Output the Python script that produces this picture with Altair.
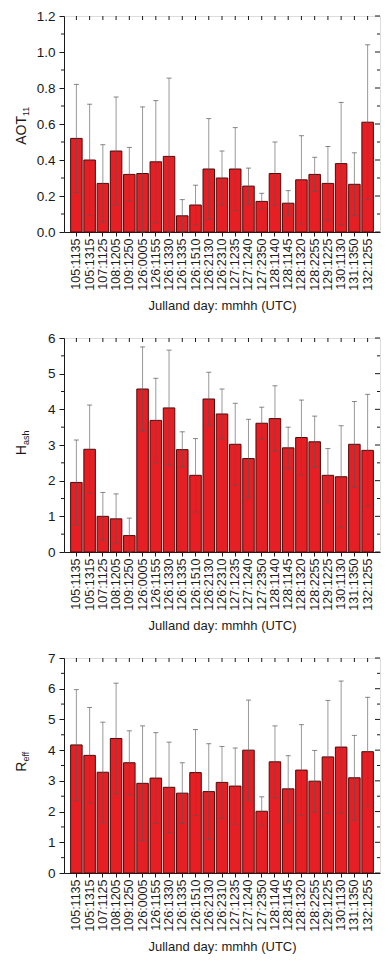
import altair as alt
import pandas as pd

categories = ["105:1135", "105:1315", "107:1125", "108:1205", "109:1250", "126:0005",
              "126:1155", "126:1330", "126:1335", "126:1510", "126:2130", "126:2310",
              "127:1235", "127:1240", "127:2350", "128:1140", "128:1145", "128:1320",
              "128:2255", "129:1225", "130:1130", "131:1350", "132:1255"]

aot = [0.52, 0.40, 0.27, 0.45, 0.32, 0.325, 0.39, 0.42, 0.09, 0.15, 0.35, 0.30,
       0.35, 0.255, 0.17, 0.325, 0.16, 0.29, 0.32, 0.27, 0.38, 0.265, 0.61]
aot_err = [0.30, 0.31, 0.215, 0.30, 0.15, 0.37, 0.34, 0.435, 0.09, 0.11, 0.28, 0.15,
           0.23, 0.10, 0.045, 0.175, 0.07, 0.245, 0.095, 0.205, 0.34, 0.175, 0.43]

hash_ = [1.95, 2.88, 1.00, 0.93, 0.46, 4.57, 3.69, 4.04, 2.87, 2.15, 4.29, 3.87,
         3.02, 2.62, 3.61, 3.74, 2.92, 3.21, 3.09, 2.15, 2.11, 3.02, 2.85]
hash_err = [1.19, 1.24, 0.67, 0.70, 0.49, 1.18, 1.18, 1.62, 0.50, 1.03, 0.75, 0.70,
            1.15, 1.10, 0.45, 0.92, 0.58, 1.05, 0.72, 0.75, 1.43, 1.20, 1.57]

reff = [4.17, 3.83, 3.28, 4.38, 3.59, 2.92, 3.09, 2.79, 2.60, 3.27, 2.65, 2.95,
        2.83, 4.00, 2.01, 3.62, 2.74, 3.35, 2.99, 3.78, 4.10, 3.10, 3.95]
reff_err = [1.80, 1.56, 1.63, 1.80, 1.04, 1.87, 1.48, 1.47, 0.99, 1.40, 1.56, 1.17,
            1.24, 1.63, 0.47, 1.17, 1.08, 1.48, 1.00, 1.84, 2.15, 1.38, 1.77]

aot_major = [0.0, 0.2, 0.4, 0.6, 0.8, 1.0, 1.2]
aot_minor = [0.1, 0.3, 0.5, 0.7, 0.9, 1.1]
hash_major = [0, 1, 2, 3, 4, 5, 6]
hash_minor = [0.5, 1.5, 2.5, 3.5, 4.5, 5.5]
reff_major = [0, 1, 2, 3, 4, 5, 6, 7]
reff_minor = [0.5, 1.5, 2.5, 3.5, 4.5, 5.5, 6.5]

FONT = "Liberation Sans"
W = 316
BAR = "#e51f24"
ERR = "#555555"
INK = "#1a1a1a"


def panel(values, errs, major, minor, fmt, h, main, sub, join):
    df = pd.DataFrame({"cat": categories, "v": values, "e": errs})
    df["lo"] = (df["v"] - df["e"]).clip(lower=0)
    df["hi"] = df["v"] + df["e"]
    ymax = major[-1]
    xs = alt.Scale(domain=categories, paddingInner=0.13, paddingOuter=0.5)
    ys = alt.Scale(domain=[0, ymax], nice=False, zero=True)
    xax = alt.Axis(title="Julland day: mmhh (UTC)", labelAngle=270, labelAlign="right",
                   labelBaseline="middle", labelFontSize=12.5, labelFont=FONT,
                   labelColor=INK, titleFont=FONT, titleFontSize=13, titleFontWeight="normal",
                   titleColor=INK, titlePadding=9, tickSize=4, tickColor=INK,
                   domainColor=INK, labelPadding=2, grid=False, labelOverlap=False)
    yax = alt.Axis(title=None, values=major, format=fmt,
                   labelFont=FONT, labelFontSize=13.5,
                   labelColor=INK, tickSize=5, tickColor=INK, domainColor=INK,
                   labelPadding=4, grid=False, labelOverlap=False)
    base = alt.Chart(df)
    xn = alt.X("cat:N", scale=xs, axis=xax, sort=categories)

    def yq(field):
        return alt.Y(field, scale=ys, axis=yax)

    bars = base.mark_bar(color=BAR, stroke="#4a0c0c", strokeWidth=1).encode(
        x=xn, y=yq("v:Q"))
    err = base.mark_rule(color=ERR, opacity=0.6, strokeWidth=1).encode(
        x=xn, y=yq("lo:Q"), y2="hi:Q")
    cap_hi = base.mark_tick(color=ERR, opacity=0.7, size=5, thickness=1).encode(
        x=xn, y=yq("hi:Q"))
    cap_lo = base.mark_tick(color=ERR, opacity=0.7, size=5, thickness=1).encode(
        x=xn, y=yq("lo:Q"))
    top_ticks = base.mark_rule(color=INK, strokeWidth=1).encode(
        x=xn, y=alt.value(0), y2=alt.value(4))
    tdf_major = pd.DataFrame({"t": major})
    tdf_minor = pd.DataFrame({"t": minor})
    right_major = alt.Chart(tdf_major).mark_rule(color=INK).encode(
        y=yq("t:Q"), x=alt.value(W - 5), x2=alt.value(W))
    right_minor = alt.Chart(tdf_minor).mark_rule(color=INK).encode(
        y=yq("t:Q"), x=alt.value(W - 3), x2=alt.value(W))
    left_minor = alt.Chart(tdf_minor).mark_rule(color=INK).encode(
        y=yq("t:Q"), x=alt.value(-3), x2=alt.value(0))
    t_main = alt.Chart(pd.DataFrame({"s": [main]})).mark_text(
        angle=270, align="right", baseline="alphabetic", font=FONT, fontSize=14, color=INK
    ).encode(text="s:N", x=alt.value(-38), y=alt.value(h / 2 + join))
    t_sub = alt.Chart(pd.DataFrame({"s": [sub]})).mark_text(
        angle=270, align="left", baseline="alphabetic", font=FONT, fontSize=9, color=INK
    ).encode(text="s:N", x=alt.value(-35.5), y=alt.value(h / 2 + join))
    return alt.layer(bars, err, cap_hi, cap_lo, top_ticks, right_major, right_minor,
                     left_minor, t_main, t_sub).properties(width=W, height=h)


p1 = panel(aot, aot_err, aot_major, aot_minor, ".1f", 216, "AOT", "11", -8)
p2 = panel(hash_, hash_err, hash_major, hash_minor, "d", 214, "H", "ash", 0)
p3 = panel(reff, reff_err, reff_major, reff_minor, "d", 215, "R", "eff", -4)

chart = alt.vconcat(p1, p2, p3, spacing=17).properties(
    padding={"left": 6, "top": 0, "right": 2, "bottom": 0}
).configure_view(stroke=INK, strokeWidth=1).configure_axis(
    labelOverlap=False
).configure(background="white")

chart.save("out.html", embed_options={"renderer": "svg", "actions": False})
